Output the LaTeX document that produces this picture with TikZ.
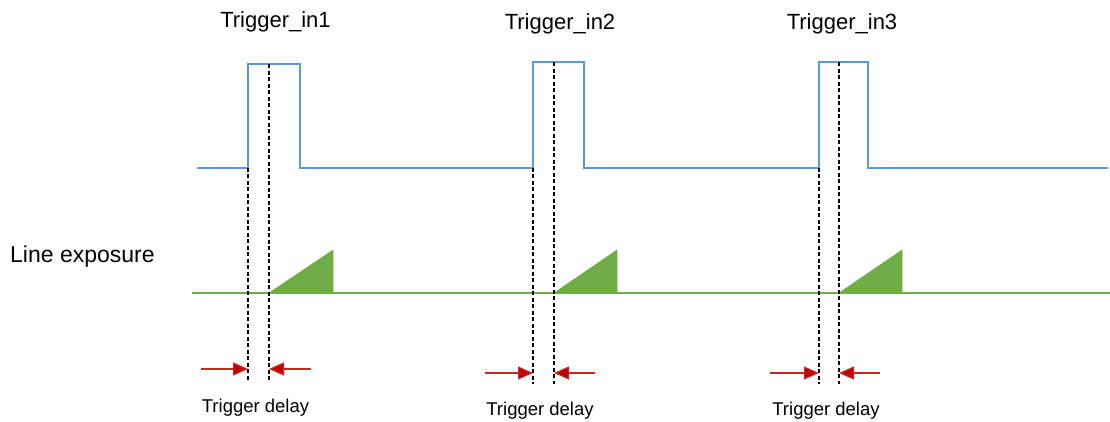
\documentclass[tikz,border=0pt]{standalone}
\usepackage{fontspec}
\setmainfont{Liberation Sans}
\usetikzlibrary{arrows.meta}
\definecolor{sigblue}{HTML}{5B9BD5}
\definecolor{siggreen}{HTML}{70AD47}
\definecolor{arrred}{HTML}{C00000}
\tikzset{
  sigline/.style={draw=sigblue, line width=2pt},
  expline/.style={draw=siggreen, line width=1.6pt},
  exptri/.style={fill=siggreen, draw=siggreen, line width=0.5pt},
  guide/.style={draw=black, line width=1.4pt, dash pattern=on 4pt off 2.5pt},
  delayarrow/.style={draw=arrred!85!white, line width=1.2pt, -{Triangle[length=15pt,width=13pt,fill=arrred]}},
  biglabel/.style={font=\fontsize{22}{24}\selectfont, anchor=base},
  smalllabel/.style={font=\fontsize{18.5}{20}\selectfont, anchor=base},
}
\begin{document}
\begin{tikzpicture}[x=1pt,y=-1pt]
\useasboundingbox (0,0) rectangle (1110,421);
% trigger signal
\coordinate (bs) at (197,167.5);
\coordinate (be) at (1108,167.5);
\draw[sigline] (bs) -- (248,167.5) -- (248,64) -- (300,64) -- (300,167.5)
  -- (533,167.5) -- (533,62) -- (584,62) -- (584,167.5)
  -- (819,167.5) -- (819,62) -- (868,62) -- (868,167.5) -- (be);
% exposure line
\coordinate (gs) at (192,293);
\coordinate (ge) at (1110,293);
\draw[expline] (gs) -- (ge);
\fill[exptri] (269,293) -- (333,250) -- (333,293) -- cycle;
\fill[exptri] (554,293) -- (617,250) -- (617,293) -- cycle;
\fill[exptri] (839,293) -- (902,250) -- (902,293) -- cycle;
% guides
\coordinate (a1t) at (248,167.5); \coordinate (a1b) at (248,381);
\coordinate (b1t) at (269,64);    \coordinate (b1b) at (269,381);
\coordinate (a2t) at (533,167.5); \coordinate (a2b) at (533,384);
\coordinate (b2t) at (554,62);    \coordinate (b2b) at (554,384);
\coordinate (a3t) at (819,167.5); \coordinate (a3b) at (819,384);
\coordinate (b3t) at (839,62);    \coordinate (b3b) at (839,384);
\draw[guide] (a1t) -- (a1b);
\draw[guide] (b1t) -- (b1b);
\draw[guide] (a2t) -- (a2b);
\draw[guide] (b2t) -- (b2b);
\draw[guide] (a3t) -- (a3b);
\draw[guide] (b3t) -- (b3b);
% delay arrows
\coordinate (l1) at (201,369); \coordinate (l1e) at (248,369);
\coordinate (r1) at (311,369); \coordinate (r1e) at (269,369);
\coordinate (l2) at (485,373); \coordinate (l2e) at (533,373);
\coordinate (r2) at (595,373); \coordinate (r2e) at (554,373);
\coordinate (l3) at (770,373); \coordinate (l3e) at (819,373);
\coordinate (r3) at (880,373); \coordinate (r3e) at (839,373);
\draw[delayarrow] (l1) -- (l1e);
\draw[delayarrow] (r1) -- (r1e);
\draw[delayarrow] (l2) -- (l2e);
\draw[delayarrow] (r2) -- (r2e);
\draw[delayarrow] (l3) -- (l3e);
\draw[delayarrow] (r3) -- (r3e);
% labels
\node[biglabel] (t1) at (275.5,27.5) {Trigger\_in1};
\node[biglabel] (t2) at (560,29.5) {Trigger\_in2};
\node[biglabel] (t3) at (842,29.5) {Trigger\_in3};
\node[biglabel, anchor=base west, inner sep=0pt, font=\fontsize{23}{25}\selectfont] (le) at (10,262) {Line exposure};
\node[smalllabel] (d1) at (255.5,412.5) {Trigger delay};
\node[smalllabel] (d2) at (540,415.5) {Trigger delay};
\node[smalllabel] (d3) at (826,415.5) {Trigger delay};
\end{tikzpicture}
\end{document}
